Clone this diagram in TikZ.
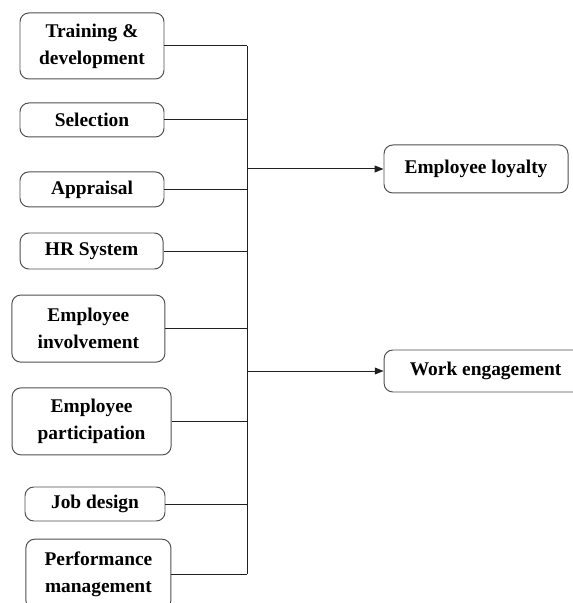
\documentclass[tikz,border=0pt]{standalone}
\usepackage{fontspec}
\setmainfont{Liberation Serif}
\usetikzlibrary{positioning, arrows.meta}

\definecolor{boxline}{HTML}{505050}
\definecolor{wire}{HTML}{202020}

\tikzset{
   hrbox/.style={draw=boxline, line width=0.7pt, rounded corners=0.22cm, align=center,
      inner sep=0pt, font=\fontsize{13.8}{19}\selectfont\bfseries},
   wire/.style={draw=wire, line width=0.7pt},
   arr/.style={wire, -{Triangle[length=0.22cm, width=0.17cm]}}
}

\begin{document}
\begin{tikzpicture}
   \useasboundingbox (0,0) rectangle (14.325,15.075);

   % practices on the left
   \node[hrbox, minimum width=3.6cm, minimum height=1.65cm] (train) at (2.3, 13.925) {Training \&\\development};
   \node[hrbox, minimum width=3.6cm, minimum height=0.85cm] (select) at (2.3, 12.075) {Selection};
   \node[hrbox, minimum width=3.6cm, minimum height=0.875cm] (apprais) at (2.3, 10.34) {Appraisal};
   \node[hrbox, minimum width=3.575cm, minimum height=0.9cm] (hrsys) at (2.29, 8.8) {HR System};
   \node[hrbox, minimum width=3.825cm, minimum height=1.675cm] (involve) at (2.21, 6.86) {Employee\\involvement};
   \node[hrbox, minimum width=3.975cm, minimum height=1.675cm] (particip) at (2.29, 4.54) {Employee\\participation};
   \node[hrbox, minimum width=3.5cm, minimum height=0.85cm] (jobdes) at (2.375, 2.475) {Job design};
   \node[hrbox, minimum width=3.625cm, minimum height=1.75cm] (perform) at (2.46, 0.72) {Performance\\management};

   % outcomes on the right
   \node[hrbox, minimum width=4.6cm, minimum height=1.2cm] (loyal) at (11.9, 10.85) {Employee loyalty};
   \node[hrbox, minimum width=5.075cm, minimum height=1.05cm] (engage) at (12.14, 5.8) {Work engagement};

   \coordinate (bus) at (6.175, 0);

   \foreach \n in {train, select, apprais, hrsys, involve, particip, jobdes, perform}
      \draw[wire] (\n.east) -- (\n.east -| bus);
   \draw[wire] (train.east -| bus) -- (perform.east -| bus);

   \draw[arr] (loyal.west -| bus) -- (loyal.west);
   \draw[arr] (engage.west -| bus) -- (engage.west);
\end{tikzpicture}
\end{document}
